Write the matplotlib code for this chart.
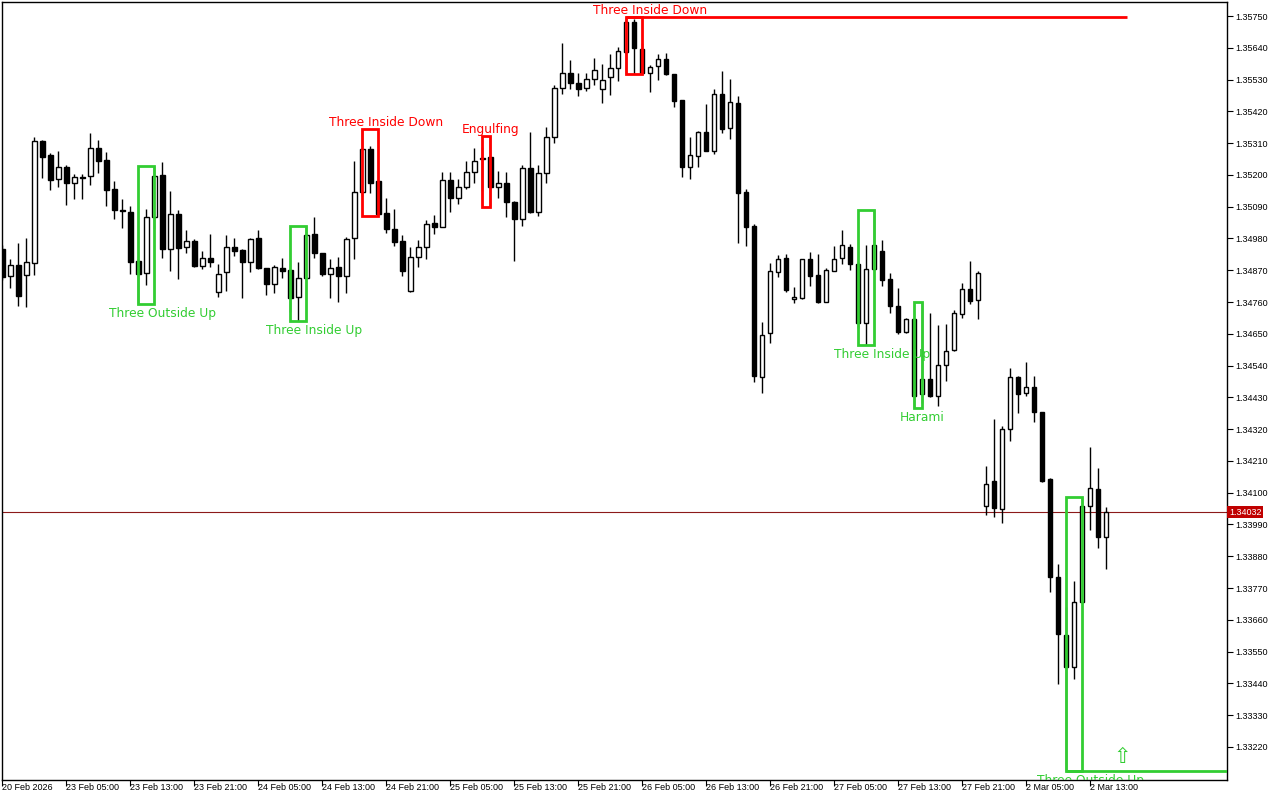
import matplotlib
matplotlib.use("Agg")
import matplotlib.pyplot as plt
from matplotlib.patches import Rectangle
import numpy as np

# ---------------- data (H1 candles) ----------------
opens = [1.34942, 1.34850, 1.34888, 1.34852, 1.34894, 1.35317, 1.35269, 1.35185, 1.35226, 1.35171,
         1.35194, 1.35195, 1.35292, 1.35252, 1.35150, 1.35079, 1.35072, 1.34902, 1.34859, 1.35053,
         1.35200, 1.34942, 1.35064, 1.34949, 1.34971, 1.34884, 1.34912, 1.34794, 1.34863, 1.34949,
         1.34940, 1.34899, 1.34981, 1.34877, 1.34822, 1.34879, 1.34871, 1.34778, 1.34842, 1.34994,
         1.34929, 1.34856, 1.34880, 1.34851, 1.34981, 1.35140, 1.35289, 1.35179, 1.35067, 1.35013,
         1.34971, 1.34799, 1.34915, 1.34949, 1.35032, 1.35021, 1.35181, 1.35119, 1.35159, 1.35211,
         1.35254, 1.35262, 1.35157, 1.35171, 1.35105, 1.35046, 1.35223, 1.35073, 1.35206, 1.35330,
         1.35500, 1.35552, 1.35517, 1.35500, 1.35531, 1.35496, 1.35540, 1.35569, 1.35626, 1.35729,
         1.35635, 1.35552, 1.35577, 1.35600, 1.35549, 1.35459, 1.35228, 1.35266, 1.35347, 1.35284,
         1.35479, 1.35361, 1.35448, 1.35140, 1.35023, 1.34501, 1.34652, 1.34865, 1.34911, 1.34769,
         1.34773, 1.34908, 1.34854, 1.34761, 1.34868, 1.34911, 1.34949, 1.34892, 1.34688, 1.34873,
         1.34937, 1.34840, 1.34746, 1.34657, 1.34701, 1.34441, 1.34493, 1.34435, 1.34542, 1.34594,
         1.34718, 1.34804, 1.34767, 1.34054, 1.34140, 1.34042, 1.34319, 1.34499, 1.34444, 1.34467,
         1.34378, 1.34146, 1.33809, 1.33607, 1.33496, 1.33721, 1.34055, 1.34112, 1.33948]
highs = [1.34957, 1.34908, 1.34963, 1.34983, 1.35332, 1.35321, 1.35275, 1.35283, 1.35234, 1.35203,
         1.35203, 1.35344, 1.35321, 1.35278, 1.35178, 1.35118, 1.35092, 1.34909, 1.35081, 1.35232,
         1.35244, 1.35144, 1.35078, 1.35009, 1.34977, 1.34937, 1.34995, 1.34891, 1.34992, 1.34981,
         1.34943, 1.34983, 1.35009, 1.34878, 1.34888, 1.34911, 1.34874, 1.34897, 1.35024, 1.35053,
         1.34931, 1.34909, 1.34917, 1.34986, 1.35249, 1.35359, 1.35300, 1.35182, 1.35120, 1.35082,
         1.34992, 1.34951, 1.34975, 1.35044, 1.35061, 1.35211, 1.35211, 1.35185, 1.35249, 1.35292,
         1.35295, 1.35335, 1.35214, 1.35209, 1.35108, 1.35234, 1.35347, 1.35234, 1.35365, 1.35511,
         1.35656, 1.35598, 1.35552, 1.35552, 1.35604, 1.35583, 1.35618, 1.35644, 1.35748, 1.35740,
         1.35656, 1.35580, 1.35618, 1.35623, 1.35551, 1.35461, 1.35332, 1.35352, 1.35445, 1.35497,
         1.35560, 1.35532, 1.35473, 1.35151, 1.35030, 1.34690, 1.34894, 1.34923, 1.34926, 1.34811,
         1.34909, 1.34932, 1.34926, 1.34877, 1.34954, 1.35009, 1.34961, 1.34898, 1.34957, 1.35078,
         1.34975, 1.34861, 1.34807, 1.34704, 1.34703, 1.34761, 1.34721, 1.34680, 1.34684, 1.34732,
         1.34827, 1.34902, 1.34867, 1.34192, 1.34354, 1.34331, 1.34530, 1.34505, 1.34551, 1.34504,
         1.34379, 1.34152, 1.33853, 1.33705, 1.33794, 1.34086, 1.34257, 1.34186, 1.34052]
lows = [1.34836, 1.34810, 1.34747, 1.34744, 1.34854, 1.35190, 1.35149, 1.35159, 1.35097, 1.35118,
        1.35118, 1.35166, 1.35208, 1.35093, 1.35048, 1.35017, 1.34857, 1.34753, 1.34819, 1.35014,
        1.34913, 1.34868, 1.34839, 1.34931, 1.34880, 1.34873, 1.34880, 1.34778, 1.34799, 1.34919,
        1.34775, 1.34865, 1.34874, 1.34784, 1.34792, 1.34842, 1.34726, 1.34694, 1.34840, 1.34911,
        1.34850, 1.34775, 1.34761, 1.34792, 1.34908, 1.35128, 1.35138, 1.35058, 1.35000, 1.34955,
        1.34851, 1.34796, 1.34880, 1.34908, 1.34995, 1.35018, 1.35073, 1.35098, 1.35150, 1.35173,
        1.35144, 1.35088, 1.35121, 1.35055, 1.34903, 1.35024, 1.35069, 1.35059, 1.35171, 1.35311,
        1.35479, 1.35496, 1.35473, 1.35490, 1.35511, 1.35448, 1.35477, 1.35526, 1.35549, 1.35549,
        1.35549, 1.35488, 1.35528, 1.35546, 1.35436, 1.35194, 1.35185, 1.35228, 1.35283, 1.35272,
        1.35346, 1.35324, 1.34965, 1.34955, 1.34484, 1.34446, 1.34619, 1.34848, 1.34796, 1.34758,
        1.34770, 1.34815, 1.34758, 1.34760, 1.34867, 1.34892, 1.34871, 1.34669, 1.34611, 1.34871,
        1.34817, 1.34723, 1.34648, 1.34654, 1.34392, 1.34410, 1.34432, 1.34401, 1.34487, 1.34592,
        1.34704, 1.34752, 1.34700, 1.34023, 1.34017, 1.33994, 1.34280, 1.34375, 1.34435, 1.34344,
        1.34138, 1.33755, 1.33437, 1.33135, 1.33454, 1.33718, 1.33971, 1.33910, 1.33835]
closes = [1.34848, 1.34888, 1.34782, 1.34897, 1.35317, 1.35263, 1.35183, 1.35226, 1.35171, 1.35192,
          1.35190, 1.35292, 1.35249, 1.35149, 1.35077, 1.35074, 1.34899, 1.34858, 1.35053, 1.35196,
          1.34942, 1.35064, 1.34948, 1.34971, 1.34886, 1.34911, 1.34899, 1.34856, 1.34949, 1.34938,
          1.34899, 1.34977, 1.34877, 1.34821, 1.34880, 1.34868, 1.34775, 1.34842, 1.34991, 1.34929,
          1.34856, 1.34877, 1.34851, 1.34977, 1.35140, 1.35289, 1.35173, 1.35064, 1.35012, 1.34969,
          1.34868, 1.34915, 1.34949, 1.35029, 1.35021, 1.35181, 1.35119, 1.35159, 1.35210, 1.35249,
          1.35259, 1.35159, 1.35171, 1.35107, 1.35046, 1.35223, 1.35073, 1.35206, 1.35330, 1.35500,
          1.35552, 1.35517, 1.35496, 1.35531, 1.35562, 1.35528, 1.35569, 1.35630, 1.35729, 1.35638,
          1.35552, 1.35575, 1.35600, 1.35549, 1.35457, 1.35228, 1.35269, 1.35347, 1.35284, 1.35479,
          1.35359, 1.35451, 1.35138, 1.35021, 1.34505, 1.34646, 1.34867, 1.34908, 1.34802, 1.34776,
          1.34908, 1.34851, 1.34761, 1.34871, 1.34908, 1.34957, 1.34891, 1.34688, 1.34873, 1.34957,
          1.34836, 1.34746, 1.34657, 1.34701, 1.34436, 1.34493, 1.34435, 1.34542, 1.34592, 1.34721,
          1.34804, 1.34765, 1.34859, 1.34129, 1.34048, 1.34319, 1.34499, 1.34441, 1.34467, 1.34378,
          1.34141, 1.33809, 1.33611, 1.33496, 1.33721, 1.34054, 1.34115, 1.33948, 1.34032]

current_price = 1.34032

time_tick_idx = [0, 8, 16, 24, 32, 40, 48, 56, 64, 72, 80, 88, 96, 104, 112, 120, 128, 136]
time_tick_labels = ["20 Feb 2026", "23 Feb 05:00", "23 Feb 13:00", "23 Feb 21:00", "24 Feb 05:00",
                    "24 Feb 13:00", "24 Feb 21:00", "25 Feb 05:00", "25 Feb 13:00", "25 Feb 21:00",
                    "26 Feb 05:00", "26 Feb 13:00", "26 Feb 21:00", "27 Feb 05:00", "27 Feb 13:00",
                    "27 Feb 21:00", "2 Mar 05:00", "2 Mar 13:00"]
price_ticks = [1.35750, 1.35640, 1.35530, 1.35420, 1.35310, 1.35200, 1.35090, 1.34980, 1.34870,
               1.34760, 1.34650, 1.34540, 1.34430, 1.34320, 1.34210, 1.34100, 1.33990, 1.33880,
               1.33770, 1.33660, 1.33550, 1.33440, 1.33330, 1.33220]

# candlestick patterns: (name, first bar, last bar, bullish?, label bar)
pattern_names = ["Three Outside Up", "Three Inside Up", "Three Inside Down", "Engulfing",
                 "Three Inside Down", "Three Inside Up", "Harami", "Three Outside Up"]
pattern_start = [17, 36, 45, 60, 78, 107, 114, 133]
pattern_end = [19, 38, 47, 61, 80, 109, 115, 135]
pattern_bull = [True, True, False, False, False, True, True, True]
pattern_label_bar = [20, 39, 48, 61, 81, 110, 115, 136]
# horizontal extension lines of the latest signals (pattern index, end bar)
ext_pattern = [4, 7]
ext_end = [140.6, 160]
arrow_bar = 140

# ---------------- figure ----------------
W, H = 1280, 800
fig = plt.figure(figsize=(W / 100, H / 100), dpi=100)
ax = fig.add_axes([2 / W, 20 / H, 1225 / W, 778 / H])
ax.set_facecolor("white")

n = len(opens)
x = np.arange(n)
o = np.array(opens); h = np.array(highs); l = np.array(lows); c = np.array(closes)
bull = c >= o

ax.vlines(x, l, h, color="black", linewidth=1.0, zorder=2)
body_bottom = np.minimum(o, c)
body_h = np.maximum(np.abs(c - o), 0.00002)
ax.bar(x, body_h, bottom=body_bottom, width=0.55,
       color=np.where(bull, "white", "black"), edgecolor="black", linewidth=1.0, zorder=3)

GREEN = "#32CD32"
RED = "#FF0000"
for i, name in enumerate(pattern_names):
    s, e = pattern_start[i], pattern_end[i]
    lo = min(lows[s:e + 1]); hi = max(highs[s:e + 1])
    col = GREEN if pattern_bull[i] else RED
    ax.add_patch(Rectangle((s, lo), e - s, hi - lo, fill=False, edgecolor=col,
                           linewidth=2, zorder=4))
    lb = pattern_label_bar[i]
    if pattern_bull[i]:
        t = ax.annotate(name, (lb, lo), xytext=(0, -2), textcoords="offset points",
                        ha="center", va="top", color=col, fontsize=8.8, zorder=5,
                        annotation_clip=False)
    else:
        t = ax.annotate(name, (lb, hi), xytext=(0, 0), textcoords="offset points",
                        ha="center", va="bottom", color=col, fontsize=8.8, zorder=5,
                        annotation_clip=False)
    t.set_clip_on(True)
    t.set_clip_box(ax.bbox)

for pi, xe in zip(ext_pattern, ext_end):
    s, e = pattern_start[pi], pattern_end[pi]
    col = GREEN if pattern_bull[pi] else RED
    yv = min(lows[s:e + 1]) if pattern_bull[pi] else max(highs[s:e + 1])
    ax.hlines(yv, s, xe, color=col, linewidth=2, zorder=4)

# signal arrow
s7, e7 = pattern_start[7], pattern_end[7]
ax.annotate("\u21e7", (arrow_bar, min(lows[s7:e7 + 1])), xytext=(0, 3), textcoords="offset points",
            ha="center", va="bottom", color=GREEN, fontsize=15, zorder=5)

# current price line
ax.axhline(current_price, color="#8c1a1a", linewidth=0.8, zorder=1)

ax.set_xlim(-0.04, 153.09)
ax.set_ylim(1.331055, 1.357985)

ax.yaxis.tick_right()
ax.set_yticks(price_ticks)
ax.set_yticklabels([f"{p:.5f}" for p in price_ticks], fontsize=6.5, family="Liberation Sans")
ax.tick_params(axis="y", length=4, width=0.8, pad=2, colors="black")
ax.set_xticks(time_tick_idx)
ax.set_xticklabels(time_tick_labels, fontsize=6.5, family="Liberation Sans", ha="left")
ax.tick_params(axis="x", length=4, width=0.8, pad=-2)
for lab in ax.get_xticklabels():
    lab.set_horizontalalignment("left")
for sp in ax.spines.values():
    sp.set_color("black"); sp.set_linewidth(1.0)

ax.text(1.0015, current_price, f"{current_price:.5f}", transform=ax.get_yaxis_transform(),
        ha="left", va="center", fontsize=6.5, family="Liberation Sans", color="white",
        bbox=dict(boxstyle="square,pad=0.15", facecolor="#C00000", edgecolor="none"), zorder=6,
        clip_on=False)

fig.savefig("out.png", dpi=100, facecolor="white")
